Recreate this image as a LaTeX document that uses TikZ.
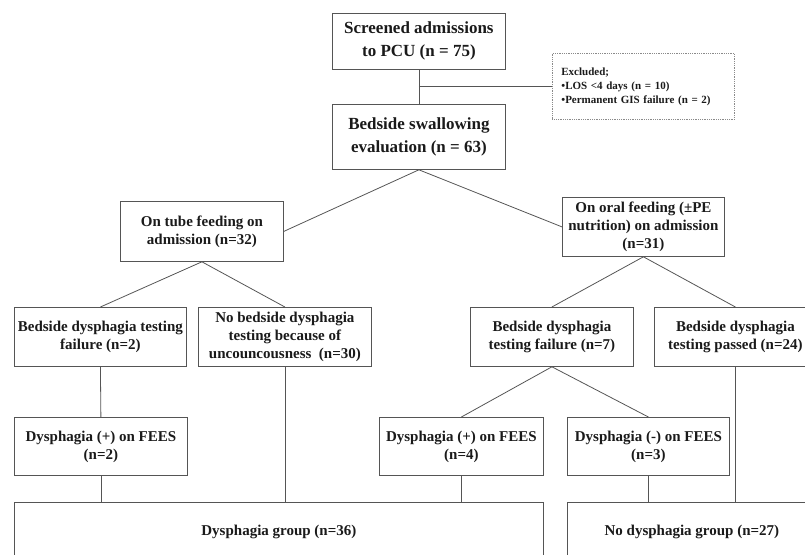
\documentclass[tikz,border=0pt]{standalone}
\usepackage{fontspec}
\setmainfont{Liberation Serif}
\definecolor{colorline}{HTML}{555555}
\definecolor{colordots}{HTML}{8A8A8A}
\definecolor{colortext}{HTML}{1A1A1A}
\tikzset{
		basic/.style={draw=colorline, line width=0.8pt, inner sep=0pt, align=center, anchor=north west, text=colortext, font=\fontsize{15}{18}\selectfont\bfseries},
		bigbox/.style={basic, font=\fontsize{17}{23}\selectfont\bfseries},
		exclbox/.style={basic, draw=colordots, densely dotted, align=left, inner xsep=9pt, font=\fontsize{11}{14}\selectfont\bfseries},
		link/.style={draw=colorline, line width=0.8pt}
	}
\begin{document}
\begin{tikzpicture}[x=1pt, y=-1pt]
		\useasboundingbox (0,0) rectangle (805,554);
		\clip (0,0) rectangle (805,554);
		% top
		\node[bigbox, minimum width=173, minimum height=56](scrnadmi) at (332,13) {Screened admissions\\to PCU (n = 75)};
		\node[bigbox, minimum width=173, minimum height=65](bedsswal) at (332,104) {Bedside swallowing\\evaluation (n = 63)};
		\node[exclbox, text width=164, minimum height=66](exclusio) at (552,53) {Excluded;\\•LOS <4 days (n = 10)\\•Permanent GIS failure (n = 2)};
		% feeding on admission
		\node[basic, minimum width=163, minimum height=60](tubefeed) at (120,201) {On tube feeding on\\admission (n=32)};
		\node[basic, minimum width=162, minimum height=59](oralfeed) at (562,197) {On oral feeding (±PE\\nutrition) on admission\\(n=31)};
		% bedside testing
		\node[basic, minimum width=172, minimum height=59](bedsfai2) at (14,307) {Bedside dysphagia testing\\failure (n=2)};
		\node[basic, minimum width=173, minimum height=59](nobedtst) at (198,307) {No bedside dysphagia\\testing because of\\uncouncousness~ (n=30)};
		\node[basic, minimum width=163, minimum height=59](bedsfai7) at (470,307) {Bedside dysphagia\\testing failure (n=7)};
		\node[basic, minimum width=162, minimum height=59](bedspass) at (654,307) {Bedside dysphagia\\testing passed (n=24)};
		% FEES
		\node[basic, minimum width=173, minimum height=58](dysppos2) at (14,417) {Dysphagia (+) on FEES\\(n=2)};
		\node[basic, minimum width=164, minimum height=58](dysppos4) at (379,417) {Dysphagia (+) on FEES\\(n=4)};
		\node[basic, minimum width=162, minimum height=58](dyspneg3) at (567,417) {Dysphagia (-) on FEES\\(n=3)};
		% groups
		\node[basic, minimum width=529, minimum height=60](dyspgrp) at (14,502) {Dysphagia group (n=36)};
		\node[basic, minimum width=249, minimum height=60](nodysgrp) at (567,502) {No dysphagia group (n=27)};
		% links
		\coordinate (exclpt) at (scrnadmi.south |- exclusio.west);
		\draw[link] (scrnadmi) -- (bedsswal);
		\draw[link] (exclpt) -- (exclusio.west);
		\draw[link] (bedsswal.south) -- (tubefeed.east);
		\draw[link] (bedsswal.south) -- (oralfeed.west);
		\draw[link] (tubefeed.south) -- (bedsfai2.north);
		\draw[link] (tubefeed.south) -- (nobedtst.north);
		\draw[link] (oralfeed.south) -- (bedsfai7.north);
		\draw[link] (oralfeed.south) -- (bedspass.north);
		\draw[link] (bedsfai2.south) -- (dysppos2.north);
		\draw[link] (bedsfai7.south) -- (dysppos4.north);
		\draw[link] (bedsfai7.south) -- (dyspneg3.north);
		\draw[link] (dysppos2.south) -- (dysppos2.south |- dyspgrp.north);
		\draw[link] (nobedtst.south) -- (nobedtst.south |- dyspgrp.north);
		\draw[link] (dysppos4.south) -- (dysppos4.south |- dyspgrp.north);
		\draw[link] (dyspneg3.south) -- (dyspneg3.south |- nodysgrp.north);
		\draw[link] (bedspass.south) -- (bedspass.south |- nodysgrp.north);
	\end{tikzpicture}
\end{document}
